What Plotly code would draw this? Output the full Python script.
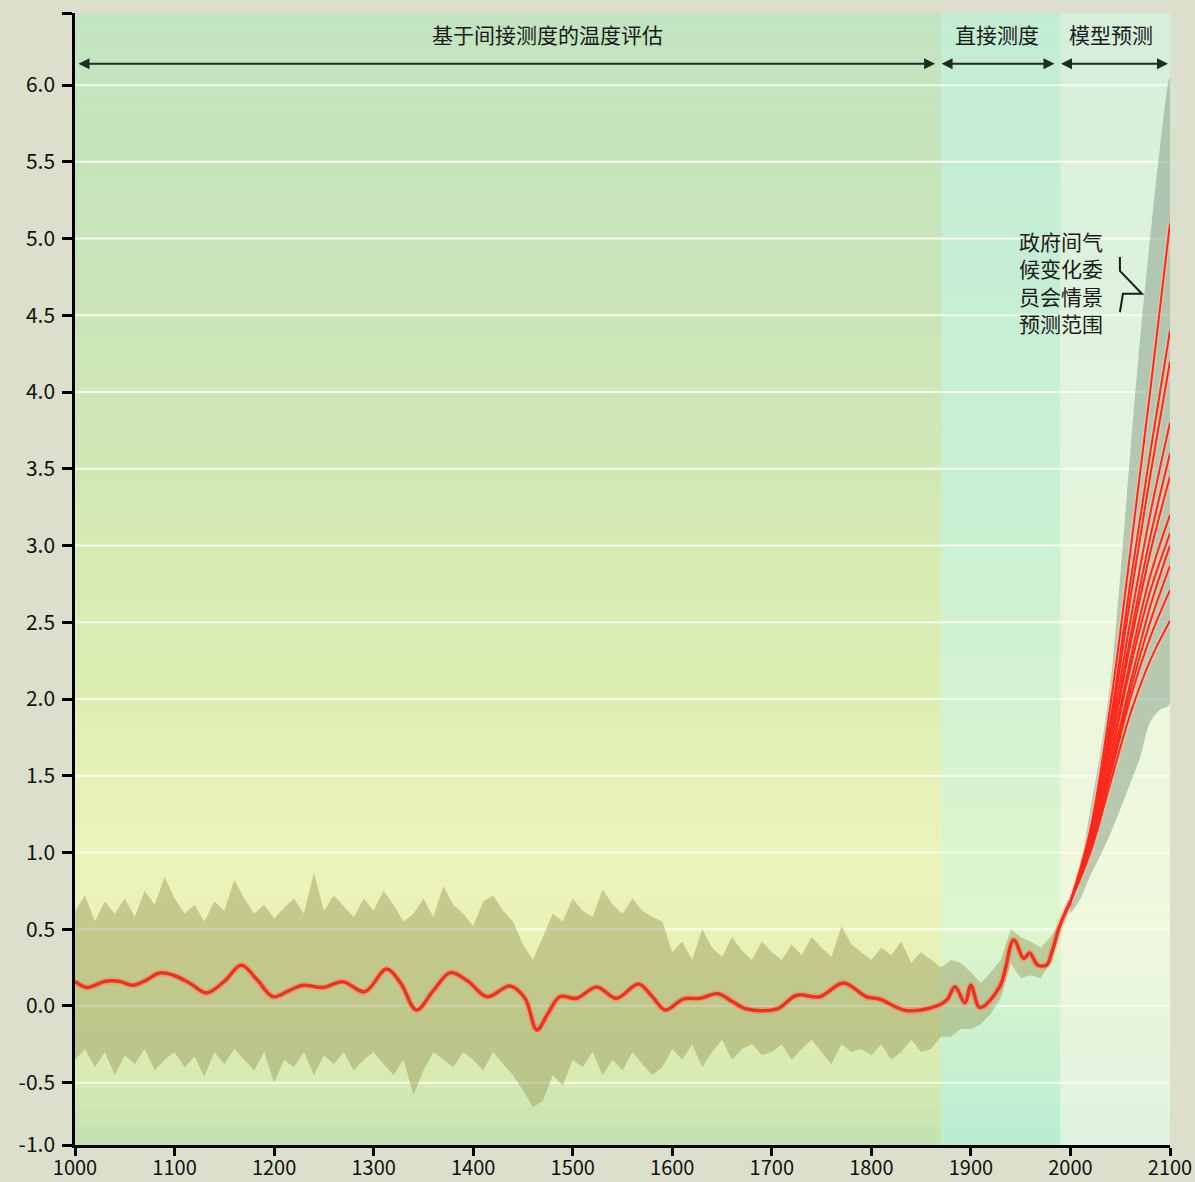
import plotly.graph_objects as go

# smoothed reconstruction / instrumental record (temperature anomaly)
HIST_YEARS = [1000, 1012, 1030, 1045, 1058, 1072, 1085, 1099, 1115, 1132, 1150, 1167, 1183, 1199,
              1215, 1229, 1249, 1269, 1291, 1313, 1327, 1343, 1360, 1377, 1395, 1414, 1437, 1452,
              1464, 1475, 1487, 1504, 1524, 1544, 1566, 1580, 1593, 1611, 1628, 1646, 1660, 1675,
              1705, 1725, 1748, 1772, 1795, 1808, 1835, 1866, 1876, 1884, 1894, 1900, 1909, 1929,
              1943, 1953, 1959, 1967, 1976, 1982, 1989, 2000]
HIST_TEMP = [0.16, 0.12, 0.16, 0.16, 0.135, 0.17, 0.215, 0.2, 0.15, 0.085, 0.16, 0.265, 0.17, 0.06,
             0.1, 0.135, 0.12, 0.158, 0.093, 0.24, 0.15, -0.026, 0.1, 0.217, 0.16, 0.06, 0.13, 0.05,
             -0.156, -0.05, 0.06, 0.05, 0.124, 0.05, 0.143, 0.06, -0.026, 0.045, 0.05, 0.08, 0.03, -0.02,
             -0.02, 0.07, 0.06, 0.15, 0.06, 0.045, -0.03, 0.0, 0.04, 0.125, 0.02, 0.135, -0.01, 0.126,
             0.43, 0.31, 0.345, 0.267, 0.267, 0.365, 0.517, 0.68]

# uncertainty band, 1000-1990 every 10 years
BAND_YEARS = list(range(1000, 1991, 10))
BAND_UPPER = [0.62, 0.72, 0.55, 0.68, 0.6, 0.7, 0.58, 0.75, 0.66, 0.84,
              0.7, 0.6, 0.66, 0.55, 0.68, 0.62, 0.82, 0.7, 0.6, 0.66,
              0.57, 0.64, 0.7, 0.6, 0.87, 0.62, 0.72, 0.65, 0.58, 0.7,
              0.62, 0.75, 0.66, 0.55, 0.6, 0.7, 0.58, 0.78, 0.66, 0.6,
              0.52, 0.68, 0.72, 0.62, 0.55, 0.4, 0.3, 0.45, 0.6, 0.55,
              0.7, 0.62, 0.58, 0.76, 0.66, 0.6, 0.7, 0.62, 0.58, 0.55,
              0.35, 0.42, 0.3, 0.5, 0.38, 0.32, 0.45, 0.36, 0.3, 0.42,
              0.35, 0.3, 0.4, 0.33, 0.45, 0.38, 0.32, 0.52, 0.4, 0.35,
              0.3, 0.38, 0.33, 0.42, 0.28, 0.35, 0.3, 0.25,
              0.3, 0.28, 0.22, 0.15, 0.22, 0.3, 0.5, 0.45, 0.42, 0.38, 0.45, 0.55]
BAND_LOWER = [-0.35, -0.28, -0.4, -0.3, -0.45, -0.32, -0.38, -0.28, -0.42, -0.35,
              -0.3, -0.4, -0.33, -0.46, -0.3, -0.38, -0.28, -0.35, -0.42, -0.3,
              -0.5, -0.35, -0.4, -0.3, -0.45, -0.32, -0.38, -0.3, -0.42, -0.35,
              -0.3, -0.38, -0.45, -0.35, -0.58, -0.42, -0.3, -0.35, -0.4, -0.3,
              -0.35, -0.42, -0.3, -0.38, -0.45, -0.55, -0.66, -0.62, -0.45, -0.52,
              -0.35, -0.4, -0.3, -0.45, -0.35, -0.42, -0.3, -0.38, -0.45, -0.4,
              -0.28, -0.35, -0.25, -0.4, -0.3, -0.22, -0.35, -0.28, -0.25, -0.32,
              -0.3, -0.25, -0.35, -0.28, -0.22, -0.3, -0.38, -0.25, -0.3, -0.28,
              -0.32, -0.25, -0.35, -0.3, -0.22, -0.3, -0.28, -0.2,
              -0.2, -0.15, -0.15, -0.12, -0.05, 0.05, 0.28, 0.18, 0.2, 0.18, 0.28, 0.5]

# IPCC scenario projections
PROJ_YEARS = [2000, 2020, 2040, 2060, 2080, 2100]
SCENARIOS = [
    [0.68, 1.15, 1.95, 2.95, 4.0, 5.1],
    [0.68, 1.12, 1.85, 2.75, 3.6, 4.4],
    [0.68, 1.1, 1.8, 2.65, 3.45, 4.2],
    [0.68, 1.1, 1.75, 2.5, 3.2, 3.8],
    [0.68, 1.08, 1.7, 2.4, 3.05, 3.6],
    [0.68, 1.08, 1.68, 2.35, 2.95, 3.45],
    [0.68, 1.05, 1.62, 2.25, 2.8, 3.2],
    [0.68, 1.05, 1.6, 2.2, 2.7, 3.08],
    [0.68, 1.03, 1.55, 2.1, 2.6, 3.0],
    [0.68, 1.03, 1.52, 2.05, 2.5, 2.87],
    [0.68, 1.02, 1.5, 2.0, 2.4, 2.71],
    [0.68, 1.0, 1.45, 1.9, 2.25, 2.51],
]
ENV_YEARS = [2000, 2010, 2020, 2030, 2040, 2050, 2060, 2070, 2080, 2090, 2100]
ENV_UPPER = [0.68, 0.92, 1.28, 1.65, 2.1, 2.8, 3.6, 4.35, 5.0, 5.6, 6.05]
ENV_LOWER = [0.6, 0.7, 0.85, 0.98, 1.12, 1.28, 1.45, 1.62, 1.85, 1.93, 1.97]

PERIOD_BOUNDS = [1000, 1870, 1990, 2100]
PERIOD_LABELS = ["基于间接测度的温度评估", "直接测度", "模型预测"]

Y_TICKS = [-0.906, -0.5, 0.0, 0.5, 1.0, 1.5, 2.0, 2.5, 3.0, 3.5, 4.0, 4.5, 5.0, 5.5, 6.0, 6.47]
Y_TICKTEXT = ["-1.0", "-0.5", "0.0", "0.5", "1.0", "1.5", "2.0", "2.5", "3.0", "3.5",
              "4.0", "4.5", "5.0", "5.5", "6.0", ""]
GRID_VALUES = [-0.5, 0.0, 0.5, 1.0, 1.5, 2.0, 2.5, 3.0, 3.5, 4.0, 4.5, 5.0, 5.5, 6.0]

Y_MIN, Y_MAX = -0.906, 6.47
FONT = "Noto Sans CJK SC"
PAGE_BG = "#dcdfcc"

# background colour stops per period column (value, rgb)
BG_STOPS = [
    [(-0.906, (196, 224, 178)), (-0.5, (214, 234, 178)), (0.3, (232, 241, 182)), (1.0, (236, 244, 186)),
     (2.0, (222, 238, 178)), (3.5, (210, 232, 180)), (5.0, (200, 228, 186)), (6.47, (194, 228, 192))],
    [(-0.906, (186, 236, 210)), (0.5, (222, 246, 205)), (1.5, (215, 243, 208)), (3.5, (200, 240, 212)),
     (6.47, (195, 236, 212))],
    [(-0.906, (222, 242, 222)), (0.5, (240, 248, 222)), (2.0, (236, 247, 220)), (4.0, (225, 244, 222)),
     (6.47, (214, 238, 218))],
]


def interp_color(stops, v):
    for (v0, c0), (v1, c1) in zip(stops[:-1], stops[1:]):
        if v0 <= v <= v1:
            t = (v - v0) / (v1 - v0)
            c = [round(a + (b - a) * t) for a, b in zip(c0, c1)]
            return f"rgb({c[0]},{c[1]},{c[2]})"
    c = stops[-1][1]
    return f"rgb({c[0]},{c[1]},{c[2]})"


shapes = []
n_strips = 60
step = (Y_MAX - Y_MIN) / n_strips
for i, stops in enumerate(BG_STOPS):
    for k in range(n_strips):
        y0 = Y_MIN + k * step
        shapes.append(dict(type="rect", xref="x", yref="y", layer="below",
                           x0=PERIOD_BOUNDS[i], x1=PERIOD_BOUNDS[i + 1], y0=y0, y1=y0 + step + 0.001,
                           fillcolor=interp_color(stops, y0 + step / 2), line=dict(width=0)))

for g in GRID_VALUES:
    shapes.append(dict(type="line", xref="x", yref="y", layer="between",
                       x0=1000, x1=2100, y0=g, y1=g,
                       line=dict(color="rgba(250,255,245,0.85)", width=2)))

# bracket next to the IPCC label
shapes.append(dict(type="path", xref="x", yref="y", layer="above",
                   path="M 2049.7,4.88 L 2049.7,4.79 L 2071.8,4.64 L 2052.7,4.64 L 2049.7,4.52",
                   line=dict(color="#1a1a1a", width=2)))

fig = go.Figure()

# uncertainty band
fig.add_trace(go.Scatter(
    x=BAND_YEARS + BAND_YEARS[::-1], y=BAND_UPPER + BAND_LOWER[::-1],
    fill="toself", fillcolor="rgba(145,145,80,0.42)", line=dict(width=0),
    mode="lines", hoverinfo="skip", showlegend=False))

# projection envelope
fig.add_trace(go.Scatter(
    x=ENV_YEARS + ENV_YEARS[::-1], y=ENV_UPPER + ENV_LOWER[::-1],
    fill="toself", fillcolor="rgba(120,145,125,0.45)", line=dict(width=0, shape="spline"),
    mode="lines", hoverinfo="skip", showlegend=False))

for sc in SCENARIOS:
    fig.add_trace(go.Scatter(x=PROJ_YEARS, y=sc, mode="lines", showlegend=False,
                             line=dict(color="rgba(255,200,170,0.6)", width=4.5, shape="spline")))
for sc in SCENARIOS:
    fig.add_trace(go.Scatter(x=PROJ_YEARS, y=sc, mode="lines", showlegend=False,
                             line=dict(color="#fa2a1c", width=2, shape="spline")))

fig.add_trace(go.Scatter(x=HIST_YEARS, y=HIST_TEMP, mode="lines", showlegend=False,
                         line=dict(color="rgba(255,120,80,0.35)", width=7, shape="spline", smoothing=1)))
fig.add_trace(go.Scatter(x=HIST_YEARS, y=HIST_TEMP, mode="lines", showlegend=False,
                         line=dict(color="#ee3220", width=3.5, shape="spline", smoothing=1)))

annotations = []
arrow_y = 6.14
gaps = [(2, -6), (-1, -6), (-1, -2)]
for i, label in enumerate(PERIOD_LABELS):
    x0 = PERIOD_BOUNDS[i] + gaps[i][0]
    x1 = PERIOD_BOUNDS[i + 1] + gaps[i][1]
    annotations.append(dict(x=x1, y=arrow_y, ax=x0, ay=arrow_y, xref="x", yref="y",
                            axref="x", ayref="y", text="", showarrow=True,
                            arrowhead=2, arrowside="end+start", arrowsize=1.1, arrowwidth=2,
                            arrowcolor="#1e2d20", standoff=0, startstandoff=0))
label_x = [1475, 1926, 2041]
for lx, label in zip(label_x, PERIOD_LABELS):
    annotations.append(dict(x=lx, y=6.33, xref="x", yref="y", text=label, showarrow=False,
                            font=dict(family=FONT, size=21, color="#1a1a1a")))

annotations.append(dict(x=1990.5, y=4.72, xref="x", yref="y", showarrow=False,
                        text="政府间气<br>候变化委<br>员会情景<br>预测范围", align="left",
                        font=dict(family=FONT, size=21, color="#1a1a1a")))

fig.update_layout(
    width=1195, height=1182, autosize=False,
    margin=dict(l=75, r=25, t=13, b=37),
    paper_bgcolor=PAGE_BG,
    plot_bgcolor="#dfeec0",
    shapes=shapes,
    annotations=annotations,
    font=dict(family=FONT, size=18, color="#111111"),
    xaxis=dict(range=[1000, 2100], tickvals=list(range(1000, 2101, 100)), automargin=False,
               showgrid=False, zeroline=False, showline=True, linecolor="black", linewidth=2.5,
               ticks="outside", ticklen=8, tickwidth=2.5, tickcolor="black", ticklabelstandoff=-5,
               tickfont=dict(family=FONT, size=20, color="#111111")),
    yaxis=dict(range=[Y_MIN, Y_MAX], tickvals=Y_TICKS, ticktext=Y_TICKTEXT, automargin=False,
               showgrid=False, zeroline=False, showline=True, linecolor="black", linewidth=2.5,
               ticks="outside", ticklen=10, tickwidth=2.5, tickcolor="black", ticklabelstandoff=3,
               tickfont=dict(family=FONT, size=21, color="#111111")),
)

# drop the default page margin so the figure sits at the window origin
post = (
    "document.body.style.margin='0';"
    "document.body.style.overflow='hidden';"
    f"document.body.style.background='{PAGE_BG}';"
)
fig.write_html("out.html", post_script=post, config={"displayModeBar": False})
